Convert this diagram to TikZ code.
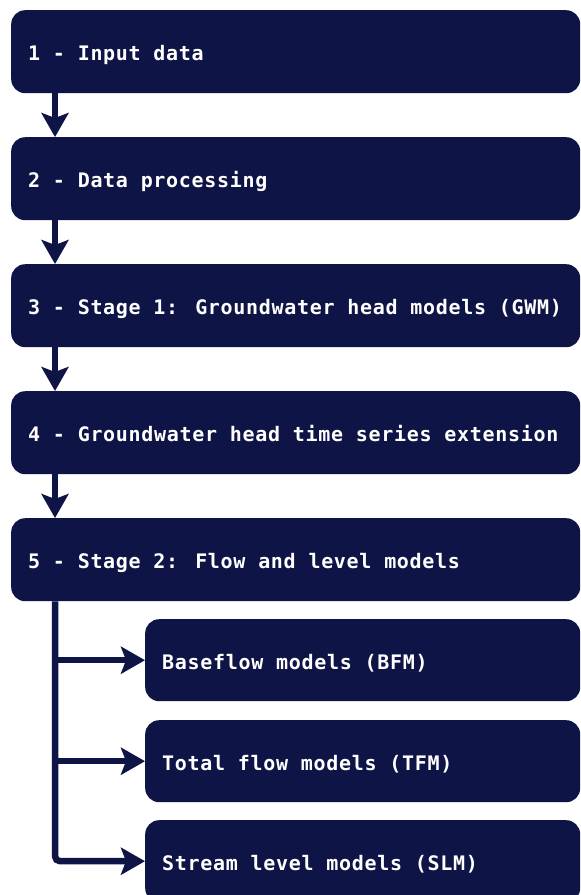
\documentclass[tikz,border=0pt]{standalone}
\usepackage{fontspec}
\newfontfamily\boxfont{DejaVu Sans Mono}[LetterSpace=3.5]
\usetikzlibrary{arrows.meta}
\definecolor{navy}{RGB}{15,20,70}
\tikzset{
  mainbox/.style={fill=navy, rounded corners=14pt, minimum width=569pt, minimum height=83pt, inner sep=0pt, anchor=north west},
  subbox/.style={fill=navy, rounded corners=14pt, minimum width=435pt, minimum height=82pt, inner sep=0pt, anchor=north west},
  lbl/.style={text=white, anchor=base west, inner sep=0pt, font=\boxfont\bfseries\fontsize{20}{24}\selectfont},
  arr/.style={draw=navy, line width=6.5pt, -{Stealth[width=27pt,length=24pt,inset=5pt]}},
}
\begin{document}
\begin{tikzpicture}[x=1pt,y=-1pt]
\useasboundingbox[fill=white] (0,0) rectangle (581,895);
\node[mainbox] (b1) at (11,10) {};
\node[mainbox] (b2) at (11,137) {};
\node[mainbox] (b3) at (11,264) {};
\node[mainbox] (b4) at (11,391) {};
\node[mainbox] (b5) at (11,518) {};
\node[subbox] (s1) at (145,619) {};
\node[subbox] (s2) at (145,720) {};
\node[subbox] (s3) at (145,820) {};
\node[lbl] (t1) at ([xshift=17pt,yshift=-9pt]b1.west) {1 - Input data};
\node[lbl] (t2) at ([xshift=17pt,yshift=-9pt]b2.west) {2 - Data processing};
\node[lbl] (t3) at ([xshift=17pt,yshift=-9pt]b3.west) {3 - Stage 1: Groundwater head models (GWM)};
\node[lbl] (t4) at ([xshift=17pt,yshift=-9pt]b4.west) {4 - Groundwater head time series extension};
\node[lbl] (t5) at ([xshift=17pt,yshift=-9pt]b5.west) {5 - Stage 2: Flow and level models};
\node[lbl] (u1) at ([xshift=17pt,yshift=-9pt]s1.west) {Baseflow models (BFM)};
\node[lbl] (u2) at ([xshift=17pt,yshift=-9pt]s2.west) {Total flow models (TFM)};
\node[lbl] (u3) at ([xshift=17pt,yshift=-9pt]s3.west) {Stream level models (SLM)};
\draw[arr] ([xshift=44pt]b1.south west) -- ([xshift=44pt]b2.north west);
\draw[arr] ([xshift=44pt]b2.south west) -- ([xshift=44pt]b3.north west);
\draw[arr] ([xshift=44pt]b3.south west) -- ([xshift=44pt]b4.north west);
\draw[arr] ([xshift=44pt]b4.south west) -- ([xshift=44pt]b5.north west);
\coordinate (trunk) at ([xshift=44pt]b5.south west);
\draw[arr, rounded corners=5pt] (trunk) |- (s3.west);
\draw[arr] (trunk |- s1.west) -- (s1.west);
\draw[arr] (trunk |- s2.west) -- (s2.west);
\end{tikzpicture}
\end{document}
